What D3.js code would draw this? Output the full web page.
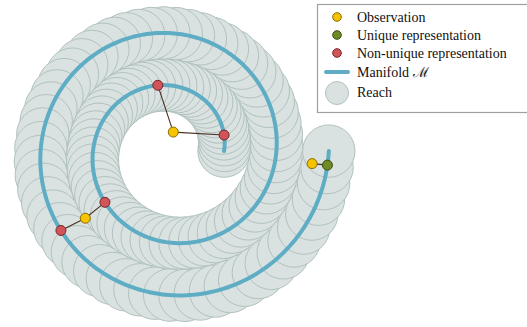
<!DOCTYPE html>
<html>
<head>
<meta charset="utf-8">
<script src="https://cdn.jsdelivr.net/npm/d3@7"></script>
<style>
  html, body { margin: 0; padding: 0; background: #fff; }
  svg { display: block; }
</style>
</head>
<body>
<svg id="chart" width="527" height="327"></svg>
<script>
// Archimedean spiral manifold: (t cos t, t sin t) for t in [2π, 6π]
const spiralRange = [2 * Math.PI, 6 * Math.PI];
const reach = Math.PI;          // half the gap between neighbouring arms
const reachSamples = 120;       // number of reach discs along the curve
const curveSamples = 600;

// Observations (data coordinates)
const observations = [
  [0.2, 2.28],
  [-10.35, -8.05],
  [16.85, -1.5]
];
// Closest points on the manifold, given by curve parameter t
const uniqueT = [18.76];
const nonUniqueT = [8.06, 6.58, 10.08, 16.33];
// Links: observation index -> representation
const uniqueLinks = [[2, 0]];
const nonUniqueLinks = [[0, 0], [0, 1], [1, 2], [1, 3]];

const legendLabels = ["Observation", "Unique representation", "Non-unique representation", "Manifold \u2133", "Reach"];

const colors = {
  obs: "#f5c300", obsEdge: "#8a6d00",
  uniq: "#6e8b25", uniqEdge: "#3b4d10",
  nonu: "#d05558", nonuEdge: "#7a2225",
  manifold: "#5eadc4",
  reachFill: "#d9e2e1", reachEdge: "#b1c2be",
  link: "#4a2e22"
};
const fontFamily = "'Liberation Serif', 'DejaVu Serif', 'Times New Roman', serif";

const svg = d3.select("#chart");
const cx = 171.6, cy = 151.1, unit = 8.34;
const x = d3.scaleLinear().domain([-20, 20]).range([cx - 20 * unit, cx + 20 * unit]);
const y = d3.scaleLinear().domain([-20, 20]).range([cy + 20 * unit, cy - 20 * unit]);
const pt = t => [t * Math.cos(t), t * Math.sin(t)];
const rPx = x(reach) - x(0);

// Reach discs, later ones drawn over earlier ones
const discT = d3.range(reachSamples).map(i => spiralRange[0] + (spiralRange[1] - spiralRange[0]) * i / (reachSamples - 1));
svg.append("g").selectAll("circle").data(discT).join("circle")
  .attr("cx", t => x(pt(t)[0]))
  .attr("cy", t => y(pt(t)[1]))
  .attr("r", rPx)
  .attr("fill", colors.reachFill)
  .attr("stroke", colors.reachEdge)
  .attr("stroke-width", 1);

// Manifold curve
const curveT = d3.range(curveSamples + 1).map(i => spiralRange[0] + (spiralRange[1] - spiralRange[0]) * i / curveSamples);
svg.append("path")
  .datum(curveT)
  .attr("d", d3.line().x(t => x(pt(t)[0])).y(t => y(pt(t)[1])))
  .attr("fill", "none")
  .attr("stroke", colors.manifold)
  .attr("stroke-width", 4)
  .attr("stroke-linecap", "round");

// Links from observations to their representations
const links = [
  ...uniqueLinks.map(([o, r]) => [observations[o], pt(uniqueT[r])]),
  ...nonUniqueLinks.map(([o, r]) => [observations[o], pt(nonUniqueT[r])])
];
svg.append("g").selectAll("line").data(links).join("line")
  .attr("x1", d => x(d[0][0])).attr("y1", d => y(d[0][1]))
  .attr("x2", d => x(d[1][0])).attr("y2", d => y(d[1][1]))
  .attr("stroke", colors.link).attr("stroke-width", 1.1);

function dots(data, fill, edge) {
  svg.append("g").selectAll("circle").data(data).join("circle")
    .attr("cx", d => x(d[0])).attr("cy", d => y(d[1]))
    .attr("r", 5)
    .attr("fill", fill).attr("stroke", edge).attr("stroke-width", 1);
}
dots(observations, colors.obs, colors.obsEdge);
dots(uniqueT.map(pt), colors.uniq, colors.uniqEdge);
dots(nonUniqueT.map(pt), colors.nonu, colors.nonuEdge);

// Legend
const lg = svg.append("g");
lg.append("rect").attr("x", 317.5).attr("y", 4.5).attr("width", 220).attr("height", 108)
  .attr("fill", "#fff").attr("stroke", "#a0a0a0").attr("stroke-width", 1.2);
const rowsY = [17, 35, 53, 72, 93];
const mk = [[colors.obs, colors.obsEdge], [colors.uniq, colors.uniqEdge], [colors.nonu, colors.nonuEdge]];
mk.forEach((c, i) => {
  lg.append("circle").attr("cx", 337).attr("cy", rowsY[i]).attr("r", 4.3)
    .attr("fill", c[0]).attr("stroke", c[1]).attr("stroke-width", 1);
});
lg.append("line").attr("x1", 326).attr("x2", 348).attr("y1", rowsY[3]).attr("y2", rowsY[3])
  .attr("stroke", colors.manifold).attr("stroke-width", 4).attr("stroke-linecap", "round");
lg.append("circle").attr("cx", 337).attr("cy", rowsY[4]).attr("r", 11.5)
  .attr("fill", colors.reachFill).attr("stroke", colors.reachEdge).attr("stroke-width", 1);
legendLabels.forEach((s, i) => {
  lg.append("text").attr("x", 357).attr("y", rowsY[i] - (i === 4 ? 1 : 0)).attr("dy", "0.35em")
    .style("font-family", fontFamily)
    .attr("font-size", 14).attr("fill", "#111").text(s);
});
</script>
</body>
</html>
